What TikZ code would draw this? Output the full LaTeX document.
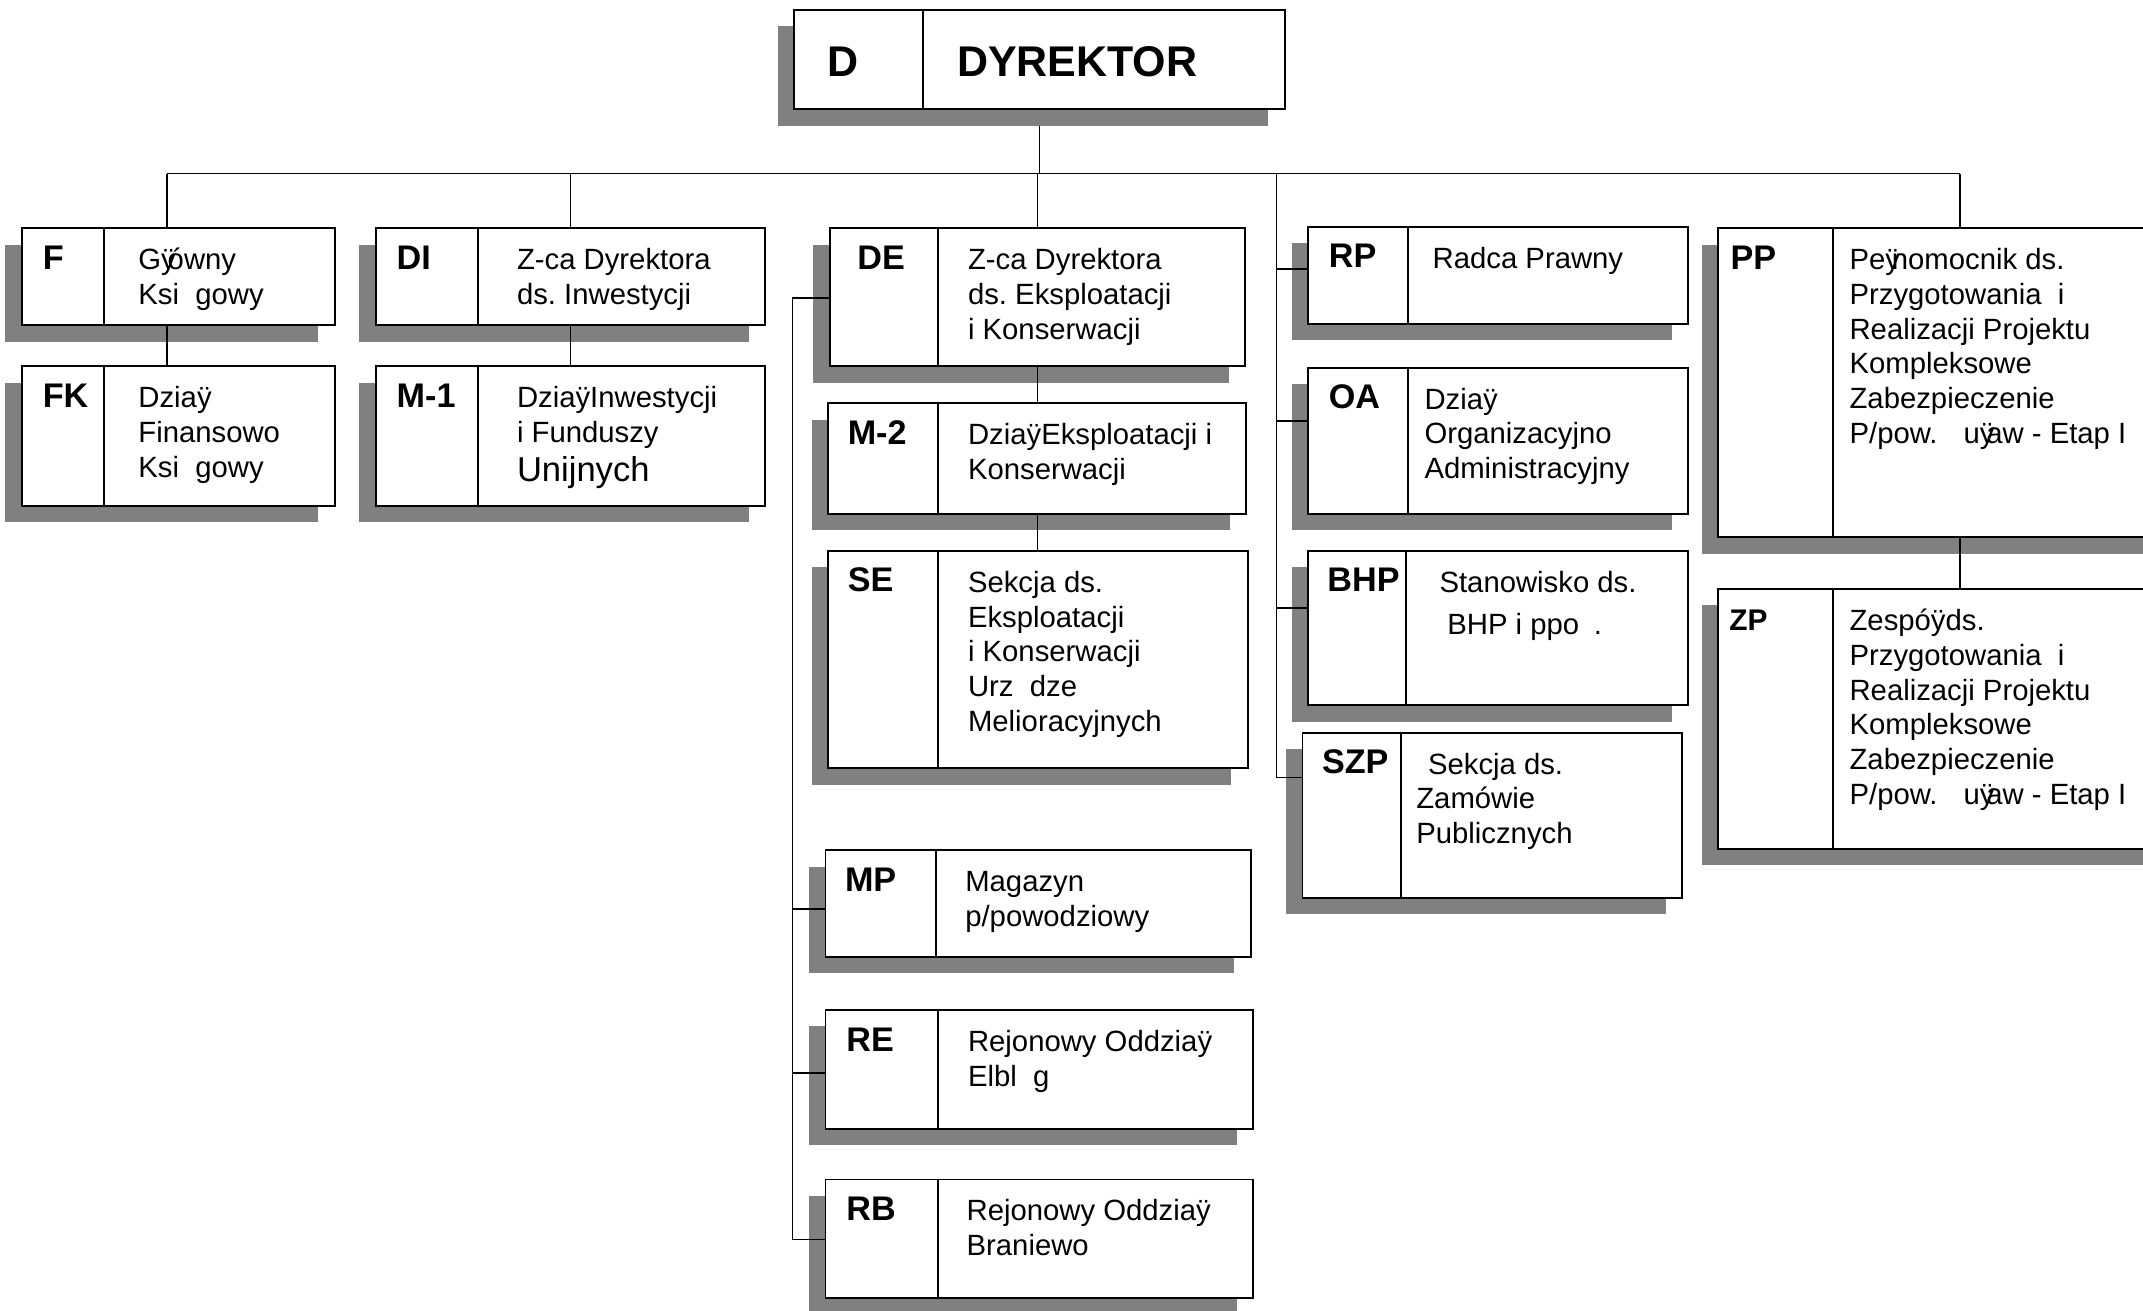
\documentclass[tikz,border=0pt]{standalone}
\usepackage{fontspec}
\setmainfont{Liberation Sans}
\usetikzlibrary{calc}
\definecolor{shadowc}{HTML}{808080}
\newcommand\brokenl{\makebox[0.222em][l]{ÿ}}

\begin{document}
\begin{tikzpicture}[x=0.7pt, y=-0.7pt,
  boxc/.style={draw=black, fill=white, line width=1pt, inner sep=0pt},
  shade/.style={fill=shadowc, draw=none},
  codet/.style={font=\fontsize{17.5}{21}\selectfont\bfseries, inner sep=0pt, anchor=base west},
  dirt/.style={font=\fontsize{22}{26}\selectfont\bfseries, inner sep=0pt, anchor=base west},
  desct/.style={font=\fontsize{15}{17.8}\selectfont\frenchspacing, align=left, inner sep=0pt, anchor=north west},
  linkc/.style={line width=0.8pt}]
  \useasboundingbox (0,0) rectangle (1568,959);

  % director
  \fill[shade] (569,19) rectangle (928,92) coordinate (Dsh);
  \node[boxc, minimum width={359*0.7pt}, minimum height={73*0.7pt}] (D) at (760.5,43.5) {};
  \draw[line width=1pt] (675,7) -- (675,80);
  \node[dirt] (D-code) at (605,56) {D};
  \node[dirt] (D-text) at (700,56) {DYREKTOR};

  % units: name/left/top/right/bottom/divider/code x/text x/code/text
  \foreach \nm/\xa/\ya/\xb/\yb/\dv/\cx/\tx/\code/\txt in {
    F/16/167/245/238/76/31/101/F/{G\brokenl ówny\\Ksi\phantom{ę}gowy},
    FK/16/268/245/370/76/31/101/FK/{Dzia\brokenl\\Finansowo\\Ksi\phantom{ę}gowy},
    DI/275/167/560/238/350/290/378/DI/{Z-ca Dyrektora\\ds. Inwestycji},
    M-1/275/268/560/370/350/290/378/M-1/{Dzia\brokenl\ Inwestycji\\i Funduszy\\[2pt]{\fontsize{17.7}{21}\selectfont Unijnych}},
    DE/607/167/911/268/686/627/708/DE/{Z-ca Dyrektora\\ds. Eksploatacji\\i Konserwacji},
    M-2/606/295/912/376/686/620/708/M-2/{Dzia\brokenl\ Eksploatacji i\\Konserwacji},
    SE/606/403/913/562/686/620/708/SE/{Sekcja ds.\\Eksploatacji\\i Konserwacji\\Urz\phantom{ą}dze\\Melioracyjnych},
    MP/604/622/915/700/685/618/706/MP/{Magazyn\\p/powodziowy},
    RE/604/739/917/826/686/619/708/RE/{Rejonowy Oddzia\brokenl\\Elbl\phantom{ą}g},
    RB/604/863/917/950/686/619/707/RB/{Rejonowy Oddzia\brokenl\\Braniewo},
    RP/957/166/1235/237/1030/972/1048/RP/{Radca Prawny},
    OA/957/269/1235/376/1030/972/1042/OA/{Dzia\brokenl\\Organizacyjno\\Administracyjny},
    BHP/957/403/1235/516/1029/971/1053/BHP/{Stanowisko ds.\\[4pt]\hspace*{4pt}BHP i ppo\phantom{ż}.},
    SZP/953/536/1231/657/1025/967/1036/SZP/{\hspace*{6pt}Sekcja ds.\\Zamówie\\Publicznych},
    PP/1257/167/1580/393/1341/1266/1353/PP/{Pe\brokenl nomocnik ds.\\Przygotowania\ \ i\\Realizacji Projektu\\Kompleksowe\\Zabezpieczenie\\P/pow.\ \phantom{Ż}u\brokenl aw - Etap I},
    ZP/1257/431/1580/621/1341/1265/1353/{\fontsize{15.3}{18}\selectfont ZP}/{Zespó\brokenl\ ds.\\Przygotowania\ \ i\\Realizacji Projektu\\Kompleksowe\\Zabezpieczenie\\P/pow.\ \phantom{Ż}u\brokenl aw - Etap I}}{
    \fill[shade] (\xa-12,\ya+12) rectangle (\xb-12,\yb+12);
    \node[boxc, minimum width={(\xb-\xa)*0.7pt}, minimum height={(\yb-\ya)*0.7pt}] (\nm) at ({(\xa+\xb)/2},{(\ya+\yb)/2}) {};
    \draw[line width=1pt] (\dv,\ya) -- (\dv,\yb);
    \node[codet] (\nm-code) at (\cx,\ya+30) {\code};
    % first line: strut of 12pt above the baseline at top+30
    \node[desct] (\nm-text) at (\tx,\ya+12.9) {\rule{0pt}{12pt}\txt};
  }

  % connectors
  \coordinate (busl) at (122,127);
  \coordinate (busr) at (1434,127);
  \draw[linkc] (busl) -- (busr);
  \draw[linkc] (D.south |- Dsh) -- (D.south |- busl);
  \draw[linkc] (busl) -- (busl |- F.north);
  \draw[linkc] (busl |- F.south) -- (busl |- FK.north);
  \draw[linkc] (DI.north |- busl) -- (DI.north);
  \draw[linkc] (DI.south) -- (M-1.north);
  \draw[linkc] (DE.north |- busl) -- (DE.north);
  \draw[linkc] (DE.south) -- (DE.south |- M-2.north);
  \draw[linkc] (M-2.south) -- (M-2.south |- SE.north);
  \draw[linkc] (busr) -- (busr |- PP.north);
  \draw[linkc] (busr |- PP.south) -- (busr |- ZP.north);

  \coordinate (rtop) at (934,127);
  \coordinate (rbot) at (934,569);
  \draw[linkc] (rtop) -- (rbot) -- (SZP.west |- rbot);
  \foreach \nm/\sy in {RP/197,OA/308,BHP/445}
    \draw[linkc] (934,\sy) -- (\nm.west |- 934,\sy);

  \coordinate (ltop) at (580,218);
  \coordinate (lbot) at (580,907);
  \draw[linkc] (DE.west |- ltop) -- (ltop) -- (lbot) -- (RB.west |- lbot);
  \foreach \nm/\sy in {MP/665,RE/785}
    \draw[linkc] (580,\sy) -- (\nm.west |- 580,\sy);
\end{tikzpicture}
\end{document}
